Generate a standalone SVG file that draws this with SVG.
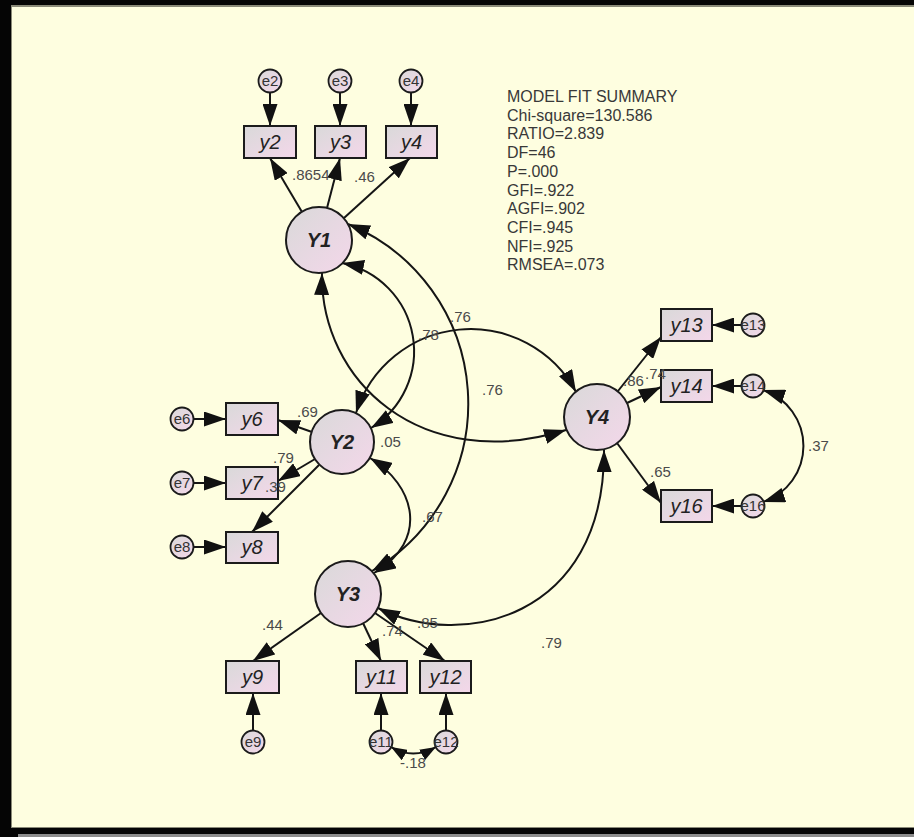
<svg xmlns="http://www.w3.org/2000/svg" width="914" height="837" viewBox="0 0 914 837">
<defs>
<linearGradient id="fillG" x1="0" y1="0" x2="1" y2="1">
<stop offset="0" stop-color="#D9D9D9"/>
<stop offset="1" stop-color="#F4D7EA"/>
</linearGradient>
<marker id="ah" viewBox="0 0 22 15" refX="22" refY="7.5" markerWidth="22" markerHeight="15" markerUnits="userSpaceOnUse" orient="auto-start-reverse">
<path d="M0,0 L22,7.5 L0,15 z" fill="#111"/>
</marker>
<marker id="ahs" viewBox="0 0 16 12" refX="16" refY="6" markerWidth="16" markerHeight="12" markerUnits="userSpaceOnUse" orient="auto-start-reverse">
<path d="M0,0 L16,6 L0,12 z" fill="#111"/>
</marker>
</defs>
<style>
.node{fill:url(#fillG);stroke:#1b1b1b;stroke-width:2}
.err{fill:url(#fillG);stroke:#1b1b1b;stroke-width:1.8}
.obs{font-family:"Liberation Sans",Arial,sans-serif;font-style:italic;font-size:20px;fill:#222;text-anchor:middle}
.lat{font-family:"Liberation Sans",Arial,sans-serif;font-style:italic;font-weight:bold;font-size:20px;fill:#222;text-anchor:middle}
.et{font-family:"Liberation Sans",Arial,sans-serif;font-size:15px;fill:#333;text-anchor:middle}
.lbl{font-family:"Liberation Sans",Arial,sans-serif;font-size:15px;fill:#4a4a4a}
.fit{font-family:"Liberation Sans",Arial,sans-serif;font-size:16px;fill:#383838}
.c{fill:none;stroke:#151515;stroke-width:2}
.p{marker-end:url(#ah)}
.d{marker-start:url(#ah);marker-end:url(#ah)}
.ds{marker-start:url(#ahs);marker-end:url(#ahs)}
</style>
<g id="frame">
<rect x="0" y="0" width="914" height="837" fill="#050505"/>
<rect x="11" y="5" width="903" height="823" fill="#8a8a78"/>
<rect x="12" y="7" width="902" height="820" fill="#FEFEE0"/>
<rect x="18" y="834" width="896" height="3" fill="#8c8c8c"/>
</g>
<g id="fit-summary">
<text class="fit" x="507" y="102">MODEL FIT SUMMARY</text>
<text class="fit" x="507" y="120.7">Chi-square=130.586</text>
<text class="fit" x="507" y="139.4">RATIO=2.839</text>
<text class="fit" x="507" y="158.1">DF=46</text>
<text class="fit" x="507" y="176.8">P=.000</text>
<text class="fit" x="507" y="195.5">GFI=.922</text>
<text class="fit" x="507" y="214.2">AGFI=.902</text>
<text class="fit" x="507" y="232.9">CFI=.945</text>
<text class="fit" x="507" y="251.6">NFI=.925</text>
<text class="fit" x="507" y="270.3">RMSEA=.073</text>
</g>
<g id="connectors">
<path class="c p" d="M270,92.5 L270,126"/>
<path class="c p" d="M340,92.5 L340,126"/>
<path class="c p" d="M411,92.5 L411,126"/>
<path class="c p" d="M193.5,419 L226,419"/>
<path class="c p" d="M193.5,483 L226,483"/>
<path class="c p" d="M193.5,547 L226,547"/>
<path class="c p" d="M253,730.5 L253,693"/>
<path class="c p" d="M381,730.5 L381,693"/>
<path class="c p" d="M446,730.5 L446,693"/>
<path class="c p" d="M741.5,325 L712,325"/>
<path class="c p" d="M741.5,386 L712,386"/>
<path class="c p" d="M741.5,506 L712,506"/>
<path class="c p" d="M302,212 L270,158"/>
<path class="c p" d="M327,208 L340,158"/>
<path class="c p" d="M344,218 L410,158"/>
<path class="c p" d="M312,432 L278,420"/>
<path class="c p" d="M315,459 L278,481"/>
<path class="c p" d="M319,465 L252,532"/>
<path class="c p" d="M321,613 L253,661"/>
<path class="c p" d="M363,623 L381,661"/>
<path class="c p" d="M375,613 L445,661"/>
<path class="c p" d="M618,391 L661,337"/>
<path class="c p" d="M627,403 L661,387"/>
<path class="c p" d="M617,443 L661,503"/>
<path class="c d" d="M348,224 A194,194 0 0 1 372,571"/>
<path class="c d" d="M342,263 A90,90 0 0 1 371,428"/>
<path class="c d" d="M322,273 C320,380 420,475 566,430"/>
<path class="c d" d="M356,413 A120,120 0 0 1 576,392"/>
<path class="c d" d="M370,458 C415,485 430,540 374,573"/>
<path class="c d" d="M378,608 C460,650 605,620 604,450"/>
<path class="c d" d="M763,390 A59,59 0 0 1 763,502"/>
<path class="c ds" d="M391,747 Q413,760 436,747"/>
</g>
<g id="Y1"><circle class="node" cx="319" cy="240" r="33"/><text class="lat" x="319" y="247">Y1</text></g>
<g id="Y2"><circle class="node" cx="342" cy="442" r="32"/><text class="lat" x="342" y="449">Y2</text></g>
<g id="Y3"><circle class="node" cx="348" cy="594" r="33"/><text class="lat" x="348" y="601">Y3</text></g>
<g id="Y4"><circle class="node" cx="597" cy="417" r="33"/><text class="lat" x="597" y="424">Y4</text></g>
<g id="y2"><rect class="node" x="244" y="126" width="52" height="32"/><text class="obs" x="270" y="149">y2</text></g>
<g id="y3"><rect class="node" x="315" y="126" width="51" height="32"/><text class="obs" x="340.5" y="149">y3</text></g>
<g id="y4"><rect class="node" x="386" y="126" width="51" height="32"/><text class="obs" x="411.5" y="149">y4</text></g>
<g id="y6"><rect class="node" x="226" y="403" width="52" height="32"/><text class="obs" x="252" y="426">y6</text></g>
<g id="y7"><rect class="node" x="226" y="467" width="52" height="32"/><text class="obs" x="252" y="490">y7</text></g>
<g id="y8"><rect class="node" x="226" y="532" width="52" height="31"/><text class="obs" x="252" y="554">y8</text></g>
<g id="y9"><rect class="node" x="226" y="661" width="53" height="32"/><text class="obs" x="252.5" y="684">y9</text></g>
<g id="y11"><rect class="node" x="356" y="661" width="51" height="32"/><text class="obs" x="381.5" y="684">y11</text></g>
<g id="y12"><rect class="node" x="420" y="661" width="51" height="32"/><text class="obs" x="445.5" y="684">y12</text></g>
<g id="y13"><rect class="node" x="661" y="309" width="51" height="32"/><text class="obs" x="686.5" y="332">y13</text></g>
<g id="y14"><rect class="node" x="661" y="370" width="51" height="32"/><text class="obs" x="686.5" y="393">y14</text></g>
<g id="y16"><rect class="node" x="661" y="490" width="51" height="32"/><text class="obs" x="686.5" y="513">y16</text></g>
<g id="e2"><circle class="err" cx="270" cy="81" r="11.5"/><text class="et" x="270" y="86">e2</text></g>
<g id="e3"><circle class="err" cx="340" cy="81" r="11.5"/><text class="et" x="340" y="86">e3</text></g>
<g id="e4"><circle class="err" cx="411" cy="81" r="11.5"/><text class="et" x="411" y="86">e4</text></g>
<g id="e6"><circle class="err" cx="182" cy="419" r="11.5"/><text class="et" x="182" y="424">e6</text></g>
<g id="e7"><circle class="err" cx="182" cy="483" r="11.5"/><text class="et" x="182" y="488">e7</text></g>
<g id="e8"><circle class="err" cx="182" cy="547" r="11.5"/><text class="et" x="182" y="552">e8</text></g>
<g id="e9"><circle class="err" cx="253" cy="742" r="11.5"/><text class="et" x="253" y="747">e9</text></g>
<g id="e11"><circle class="err" cx="381" cy="742" r="11.5"/><text class="et" x="381" y="747">e11</text></g>
<g id="e12"><circle class="err" cx="446" cy="742" r="11.5"/><text class="et" x="446" y="747">e12</text></g>
<g id="e13"><circle class="err" cx="753" cy="325" r="11.5"/><text class="et" x="753" y="330">e13</text></g>
<g id="e14"><circle class="err" cx="753" cy="386" r="11.5"/><text class="et" x="753" y="391">e14</text></g>
<g id="e16"><circle class="err" cx="753" cy="506" r="11.5"/><text class="et" x="753" y="511">e16</text></g>
<g id="labels">
<text class="lbl" x="292" y="180">.8654</text>
<text class="lbl" x="354" y="182">.46</text>
<text class="lbl" x="450" y="322">.76</text>
<text class="lbl" x="418" y="340">.78</text>
<text class="lbl" x="482" y="395">.76</text>
<text class="lbl" x="380" y="447">.05</text>
<text class="lbl" x="297" y="417">.69</text>
<text class="lbl" x="273" y="463">.79</text>
<text class="lbl" x="265" y="492">.39</text>
<text class="lbl" x="422" y="522">.67</text>
<text class="lbl" x="262" y="630">.44</text>
<text class="lbl" x="382" y="636">.74</text>
<text class="lbl" x="417" y="628">.85</text>
<text class="lbl" x="400" y="768">-.18</text>
<text class="lbl" x="541" y="648">.79</text>
<text class="lbl" x="623" y="386">.86</text>
<text class="lbl" x="645" y="379">.74</text>
<text class="lbl" x="650" y="477">.65</text>
<text class="lbl" x="808" y="451">.37</text>
</g>
</svg>
